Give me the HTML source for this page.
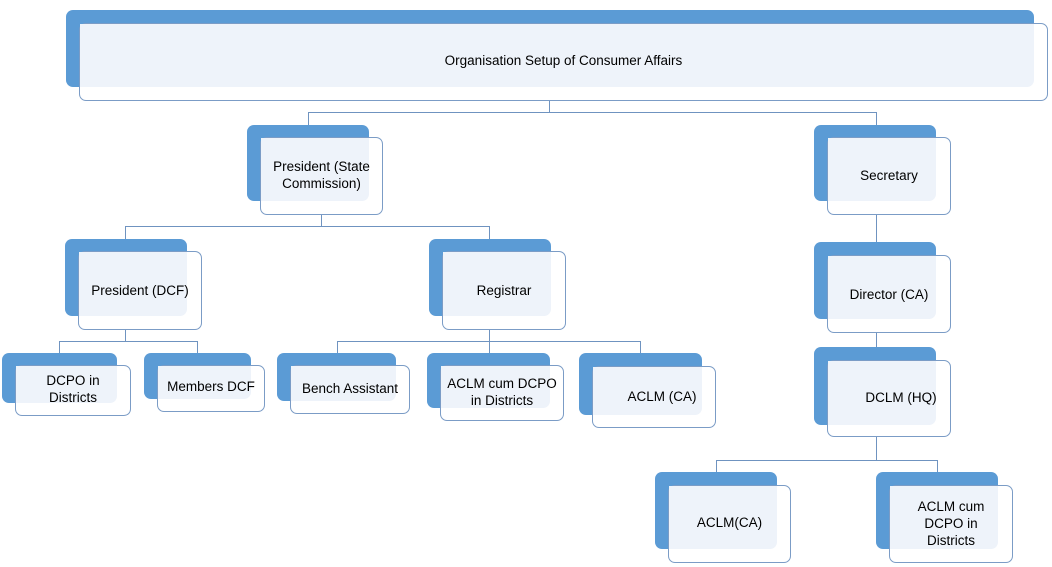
<!DOCTYPE html>
<html><head><meta charset="utf-8"><style>
body{margin:0;width:1052px;height:567px;background:#fff;position:relative;overflow:hidden;font-family:"Liberation Sans",sans-serif}
.b{position:absolute;background:#5b9bd5;border-radius:7px}
.f{position:absolute;background:#fff;border:1px solid #7b9cc6;border-radius:7px;box-sizing:border-box}
.l{position:absolute;background:#eef3fa;border-radius:0 0 7px 0}
.t{position:absolute;display:flex;align-items:center;justify-content:center;text-align:center;font-size:13.5px;color:#000;line-height:17px}
.h{position:absolute;height:1px;background:#6f93c0}
.v{position:absolute;width:1px;background:#6f93c0}
</style></head><body>
<div class="h" style="left:308px;top:112px;width:569px"></div>
<div class="v" style="left:549px;top:100px;height:12px"></div>
<div class="v" style="left:308px;top:112px;height:13px"></div>
<div class="v" style="left:876px;top:112px;height:13px"></div>
<div class="v" style="left:321px;top:214px;height:12px"></div>
<div class="h" style="left:125px;top:226px;width:365px"></div>
<div class="v" style="left:125px;top:226px;height:13px"></div>
<div class="v" style="left:489px;top:226px;height:13px"></div>
<div class="v" style="left:876px;top:214px;height:28px"></div>
<div class="v" style="left:876px;top:332px;height:15px"></div>
<div class="v" style="left:876px;top:436px;height:24px"></div>
<div class="h" style="left:716px;top:460px;width:222px"></div>
<div class="v" style="left:716px;top:460px;height:12px"></div>
<div class="v" style="left:937px;top:460px;height:12px"></div>
<div class="v" style="left:125px;top:329px;height:12px"></div>
<div class="h" style="left:59px;top:341px;width:139px"></div>
<div class="v" style="left:59px;top:341px;height:12px"></div>
<div class="v" style="left:197px;top:341px;height:12px"></div>
<div class="v" style="left:489px;top:329px;height:12px"></div>
<div class="h" style="left:337px;top:341px;width:304px"></div>
<div class="v" style="left:337px;top:341px;height:12px"></div>
<div class="v" style="left:489px;top:341px;height:12px"></div>
<div class="v" style="left:640px;top:341px;height:12px"></div>

<div class="b" style="left:66px;top:10px;width:968px;height:77px"></div>
<div class="f" style="left:79px;top:23px;width:969px;height:78px"></div>
<div class="l" style="left:80px;top:24px;width:954px;height:63px"></div>
<div class="t" style="left:79px;top:23px;width:969px;height:75px">Organisation Setup of Consumer Affairs</div>

<div class="b" style="left:247px;top:125px;width:122px;height:76px"></div>
<div class="f" style="left:260px;top:137px;width:123px;height:78px"></div>
<div class="l" style="left:261px;top:138px;width:108px;height:63px"></div>
<div class="t" style="left:260px;top:137px;width:123px;height:76px">President (State<br>Commission)</div>

<div class="b" style="left:814px;top:125px;width:122px;height:76px"></div>
<div class="f" style="left:827px;top:137px;width:124px;height:78px"></div>
<div class="l" style="left:828px;top:138px;width:108px;height:63px"></div>
<div class="t" style="left:827px;top:137px;width:124px;height:76px">Secretary</div>

<div class="b" style="left:65px;top:239px;width:122px;height:77px"></div>
<div class="f" style="left:78px;top:251px;width:124px;height:79px"></div>
<div class="l" style="left:79px;top:252px;width:108px;height:64px"></div>
<div class="t" style="left:78px;top:251px;width:124px;height:79px">President (DCF)</div>

<div class="b" style="left:429px;top:239px;width:122px;height:77px"></div>
<div class="f" style="left:442px;top:251px;width:124px;height:79px"></div>
<div class="l" style="left:443px;top:252px;width:108px;height:64px"></div>
<div class="t" style="left:442px;top:251px;width:124px;height:79px">Registrar</div>

<div class="b" style="left:814px;top:242px;width:122px;height:77px"></div>
<div class="f" style="left:827px;top:255px;width:124px;height:78px"></div>
<div class="l" style="left:828px;top:256px;width:108px;height:63px"></div>
<div class="t" style="left:827px;top:255px;width:124px;height:78px">Director (CA)</div>

<div class="b" style="left:2px;top:353px;width:115px;height:50px"></div>
<div class="f" style="left:15px;top:365px;width:116px;height:51px"></div>
<div class="l" style="left:16px;top:366px;width:101px;height:37px"></div>
<div class="t" style="left:15px;top:363px;width:116px;height:51px">DCPO in<br>Districts</div>

<div class="b" style="left:144px;top:353px;width:107px;height:46px"></div>
<div class="f" style="left:157px;top:365px;width:108px;height:47px"></div>
<div class="l" style="left:158px;top:366px;width:93px;height:33px"></div>
<div class="t" style="left:157px;top:363px;width:108px;height:47px">Members DCF</div>

<div class="b" style="left:277px;top:353px;width:119px;height:48px"></div>
<div class="f" style="left:290px;top:365px;width:120px;height:49px"></div>
<div class="l" style="left:291px;top:366px;width:105px;height:35px"></div>
<div class="t" style="left:290px;top:364px;width:120px;height:49px">Bench Assistant</div>

<div class="b" style="left:427px;top:353px;width:123px;height:55px"></div>
<div class="f" style="left:440px;top:365px;width:124px;height:56px"></div>
<div class="l" style="left:441px;top:366px;width:109px;height:42px"></div>
<div class="t" style="left:440px;top:364px;width:124px;height:56px">ACLM cum DCPO<br>in Districts</div>

<div class="b" style="left:579px;top:353px;width:123px;height:62px"></div>
<div class="f" style="left:592px;top:366px;width:124px;height:62px"></div>
<div class="l" style="left:593px;top:367px;width:109px;height:48px"></div>
<div class="t" style="left:592px;top:366px;width:140px;height:60px">ACLM (CA)</div>

<div class="b" style="left:814px;top:347px;width:122px;height:78px"></div>
<div class="f" style="left:827px;top:360px;width:124px;height:77px"></div>
<div class="l" style="left:828px;top:361px;width:108px;height:64px"></div>
<div class="t" style="left:827px;top:360px;width:148px;height:75px">DCLM (HQ)</div>

<div class="b" style="left:655px;top:472px;width:122px;height:77px"></div>
<div class="f" style="left:668px;top:485px;width:123px;height:78px"></div>
<div class="l" style="left:669px;top:486px;width:108px;height:63px"></div>
<div class="t" style="left:668px;top:485px;width:123px;height:75px">ACLM(CA)</div>

<div class="b" style="left:876px;top:472px;width:122px;height:77px"></div>
<div class="f" style="left:889px;top:485px;width:124px;height:78px"></div>
<div class="l" style="left:890px;top:486px;width:108px;height:63px"></div>
<div class="t" style="left:889px;top:485px;width:124px;height:76px">ACLM cum<br>DCPO in<br>Districts</div>
</body></html>
